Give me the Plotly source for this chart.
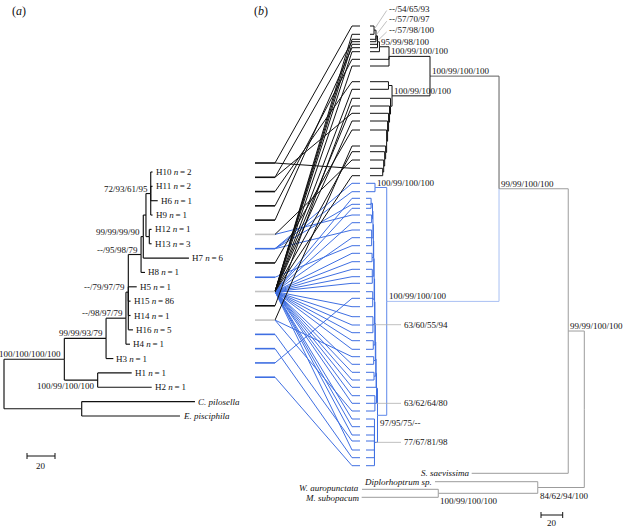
import plotly.graph_objects as go

# ------------------------------------------------------------------ data (a)
# haplotype tree: node, parent, depth from root (tree units; scale bar = 20)
a_node = ["R", "I", "N106", "X", "Y", "D", "C", "AB", "A", "H10",
          "H11", "H6", "H9", "B", "H12", "H13", "H7", "H8", "H5", "H15",
          "H14", "H16", "H4", "H3", "N12", "H1", "H2", "O", "Cpil", "Episc"]
a_parent = [None, "R", "I", "N106", "X", "Y", "D", "C", "AB", "A",
            "A", "A", "A", "AB", "B", "B", "C", "D", "Y", "Y",
            "Y", "Y", "X", "N106", "I", "N12", "N12", "R", "O", "O"]
a_depth = [0.0, 43.1, 72.9, 87.1, 88.8, 97.9, 99.5, 101.4, 104.8, 106.1,
           106.1, 109.8, 106.1, 103.8, 105.4, 105.4, 132.1, 100.7, 94.8, 90.4,
           90.4, 92.1, 90.0, 78.1, 66.9, 91.2, 105.5, 55.5, 136.4, 125.7]
a_support_node = ["A", "C", "D", "Y", "X", "N106", "I", "N12"]
a_support_text = ["72/93/61/95", "99/99/99/90", "--/95/98/79", "--/79/97/79",
                  "--/98/97/79", "99/99/93/79", "100/100/100/100", "100/99/100/100"]
a_support_side = ["above", "above", "above", "above", "above", "above", "above", "below"]
hap_names = ["H10", "H11", "H6", "H9", "H12", "H13", "H7", "H8",
             "H5", "H15", "H14", "H16", "H4", "H3", "H1", "H2"]
hap_n = [2, 2, 1, 1, 1, 3, 6, 1, 1, 86, 1, 5, 1, 1, 1, 1]
a_out_node = ["Cpil", "Episc"]
a_out_label = ["C. pilosella", "E. pisciphila"]

# ------------------------------------------------------------------ data (b)
# colony tree: (node, parent, depth from root in tree units)
b_edges = [
    ("Q", None, 0.0), ("S", "Q", 14.8), ("P", "S", 78.6), ("K", "P", 142.2),
    ("K1", "K", 180.0), ("n95", "K1", 188.8), ("nC", "n95", 190.6),
    ("nB", "nC", 192.0), ("nA", "nB", 193.8),
    ("c1", "nA", 197.5), ("c2", "nA", 197.5), ("c3", "nB", 197.5), ("c4", "nB", 197.5),
    ("c5", "nC", 197.5), ("c6", "nC", 197.5), ("c7", "n95", 197.5),
    ("c8", "K1", 197.5), ("c9", "K1", 197.5),
    ("K2", "K", 177.2), ("k2a", "K2", 180.5), ("c10", "k2a", 197.5), ("c11", "k2a", 197.5),
    ("k2c", "K2", 178.6), ("c12", "k2c", 197.5),
    ("k2d", "k2c", 179.5), ("c13", "k2d", 197.5),
    ("k2e", "k2d", 180.4), ("c14", "k2e", 197.5),
    ("k2f", "k2e", 181.3), ("c15", "k2f", 197.5),
    ("k2g", "k2f", 182.2), ("c16", "k2g", 197.5),
    ("k2h", "k2g", 183.1), ("c17", "k2h", 197.5),
    ("k2i", "k2h", 184.0), ("c18", "k2i", 197.5),
    ("k2j", "k2i", 184.9), ("c19", "k2j", 197.5),
    ("k2k", "k2j", 185.8), ("c20", "k2k", 197.5), ("c21", "k2k", 197.5),
    ("L", "P", 182.1),
    ("L1", "L", 192.9), ("c22", "L1", 201.2), ("c23", "L1", 201.2),
    ("L2", "L", 190.6), ("L3", "L2", 191.5),
    ("A11", "L3", 191.9), ("A10", "A11", 192.2), ("A9", "A10", 192.6), ("A8", "A9", 193.0),
    ("A7", "A8", 193.3), ("A6", "A7", 193.7), ("A5", "A6", 194.1), ("A4", "A5", 194.4),
    ("A3", "A4", 194.8), ("A2", "A3", 195.2),
    ("g1", "A2", 196.5), ("c24", "g1", 201.2), ("c25", "g1", 201.2), ("c26", "g1", 201.2),
    ("g2", "A2", 196.0), ("c27", "g2", 201.2), ("c28", "g2", 201.2),
    ("g3", "A3", 196.0), ("c29", "g3", 201.2), ("c30", "g3", 201.2), ("c31", "g3", 201.2),
    ("g4", "A4", 195.6), ("c32", "g4", 201.2), ("c33", "g4", 201.2),
    ("g5", "A5", 195.4), ("c34", "g5", 201.2), ("c35", "g5", 201.2), ("c36", "g5", 201.2),
    ("g6", "A6", 195.0), ("c37", "g6", 201.2), ("c38", "g6", 201.2), ("c39", "g6", 201.2),
    ("g7", "A7", 194.8), ("c40", "g7", 201.2), ("c41", "g7", 201.2), ("c42", "g7", 201.2),
    ("g8", "A8", 194.5), ("c43", "g8", 201.2), ("c44", "g8", 201.2),
    ("g9", "A9", 194.1), ("c45", "g9", 201.2), ("c46", "g9", 201.2),
    ("g10", "A10", 193.8), ("c47", "g10", 201.2), ("c48", "g10", 201.2),
    ("c49", "A11", 201.2),
    ("g12", "L3", 193.0), ("c50", "g12", 201.2), ("c51", "g12", 201.2), ("c52", "g12", 201.2),
    ("L4", "L2", 193.4), ("c53", "L4", 201.2), ("c54", "L4", 201.2), ("c55", "L4", 201.2),
    ("c56", "L4", 201.2), ("c57", "L4", 201.2), ("c58", "L4", 201.2), ("c59", "L4", 201.2),
    ("Ssaev", "S", 103.8),
    ("U", "Q", 42.9), ("Diplo", "U", 137.6), ("V", "U", 134.6),
    ("Waur", "V", 204.9), ("Msub", "V", 205.2),
]
# colony rows (vertical position of each colony tip) and its haplotype
colony_pos = [26.0, 34.3, 39.3, 41.7, 44.3, 47.7, 51.7, 59.3, 66.0, 81.7,
              89.3, 98.3, 106.0, 113.3, 121.0, 130.0, 146.0, 151.7, 160.0, 168.3,
              175.7, 183.3, 191.7, 198.3, 204.3, 208.3, 215.0, 222.7, 230.0, 237.7,
              245.7, 253.3, 261.7, 269.3, 276.7, 283.3, 291.7, 298.3, 306.7, 316.7,
              325.0, 332.7, 340.7, 349.3, 356.7, 364.3, 372.3, 380.0, 387.3, 395.7,
              403.3, 411.0, 419.0, 426.7, 435.0, 441.0, 450.0, 457.7, 465.7]
colony_hap = ["H10", "H15", "H15", "H11", "H15", "H12", "H15", "H9", "H15", "H6",
              "H15", "H14", "H15", "H11", "H15", "H8", "H16", "H15", "H13", "H10",
              "H15", "H7", "H7", "H15", "H7", "H15", "H13", "H15", "H7", "H15",
              "H5", "H15", "H15", "H15", "H15", "H15", "H15", "H1", "H15", "H15",
              "H15", "H15", "H15", "H15", "H16", "H15", "H15", "H15", "H15", "H15",
              "H15", "H16", "H15", "H15", "H15", "H4", "H15", "H3", "H2"]
b_out_node = ["Ssaev", "Diplo", "Waur", "Msub"]
b_out_label = ["S. saevissima", "Diplorhoptrum sp.", "W. auropunctata", "M. subopacum"]
b_out_pos = [473.3, 481.7, 489.3, 497.3]
b_support = [
    ("nA", "--/54/65/93", "leader_up"), ("nB", "--/57/70/97", "leader_up"),
    ("nC", "--/57/98/100", "leader_up"),
    ("n95", "95/99/98/100", "above"), ("K1", "100/99/100/100", "above"),
    ("K", "100/99/100/100", "above"), ("K2", "100/99/100/100", "above"),
    ("L1", "100/99/100/100", "above"), ("L", "100/99/100/100", "above"),
    ("P", "99/99/100/100", "above"), ("S", "99/99/100/100", "above"),
    ("g7", "63/60/55/94", "leader"), ("g12", "63/62/64/80", "leader"),
    ("L4", "77/67/81/98", "leader"),
    ("L2", "97/95/75/--", "below"), ("U", "84/62/94/100", "below"),
    ("V", "100/99/100/100", "below"),
]
scale_len = 20

# ------------------------------------------------------------------ layout constants
W, H = 625, 528
FONT = "Liberation Serif, Times New Roman, serif"
FS = 9
INK = "#111111"
BLUE = "#3f6fe2"
BLUE_MID = "#5d87ea"
BLUE_LIGHT = "#a9c0f3"
GREY = "#9c9c9c"
MIX = "#c2c2c2"
DARK = "#5e5e5e"
A_PX0, A_PXU = 4.0, 1.4
B_PX0, B_PXU = 584.3, 1.085
ROW0, ROWSTEP = 172.0, 14.35          # rows of tree (a)
TROW0, TROWSTEP = 163.0, 14.28        # haplotype rows on the left of the tanglegram
TL0, TL1, TR0, TR1 = 255, 275, 352, 360


def build(names, parents, depths):
    parent = dict(zip(names, parents))
    depth = dict(zip(names, depths))
    children = {n: [] for n in names}
    root = None
    for n in names:
        if parent[n] is None:
            root = n
        else:
            children[parent[n]].append(n)
    return root, parent, depth, children


def place(root, children, tip_y):
    y = {}

    def rec(n):
        if not children[n]:
            y[n] = tip_y[n]
            return
        for c in children[n]:
            rec(c)
        y[n] = (y[children[n][0]] + y[children[n][-1]]) / 2.0
    rec(root)
    return y


def tips_in_order(root, children):
    out = []

    def rec(n):
        if not children[n]:
            out.append(n)
        for c in children[n]:
            rec(c)
    rec(root)
    return out


segs = {}


def seg(axis, color, width, x0, y0, x1, y1):
    k = (axis, color, width)
    xs, ys = segs.setdefault(k, ([], []))
    xs += [x0, x1, None]
    ys += [y0, y1, None]


annotations = []


def text(xref, x, y, s, anchor="left", xshift=0, yshift=0, size=FS, color=INK):
    annotations.append(dict(xref=xref, yref="y", x=x, y=y, text=s, showarrow=False,
                            xanchor=anchor, yanchor="middle", xshift=xshift, yshift=yshift,
                            borderpad=0, font=dict(family=FONT, size=size, color=color)))


# ------------------------------------------------------------------ tree (a)
a_root, a_par, a_dep, a_ch = build(a_node, a_parent, a_depth)
a_tips = tips_in_order(a_root, a_ch)
a_y = place(a_root, a_ch, {t: ROW0 + ROWSTEP * i for i, t in enumerate(a_tips)})
for p in a_node:
    for c in a_ch[p]:
        seg("x", INK, 1.15, a_dep[p], a_y[p], a_dep[p], a_y[c])
        seg("x", INK, 1.15, a_dep[p], a_y[c], a_dep[c], a_y[c])
for h, n in zip(hap_names, hap_n):
    text("x", a_dep[h], a_y[h], f"{h} <i>n</i>\u2009=\u2009{n}", xshift=2)
for nd, lab in zip(a_out_node, a_out_label):
    text("x", a_dep[nd], a_y[nd], f"<i>{lab}</i>", xshift=2)
for nd, lab, side in zip(a_support_node, a_support_text, a_support_side):
    text("x", a_dep[nd], a_y[nd], lab, anchor="right", xshift=-2,
         yshift=5 if side == "above" else -6)

# scale bar (a)
sb_y = 456
sb_x0 = (27 - A_PX0) / A_PXU
seg("x", INK, 1.0, sb_x0, sb_y, sb_x0 + scale_len, sb_y)
seg("x", INK, 1.0, sb_x0, sb_y - 3, sb_x0, sb_y + 3)
seg("x", INK, 1.0, sb_x0 + scale_len, sb_y - 3, sb_x0 + scale_len, sb_y + 3)
text("x", sb_x0 + scale_len / 2, sb_y, str(scale_len), anchor="center", yshift=-10)

# ------------------------------------------------------------------ tree (b)
b_names = [e[0] for e in b_edges]
b_root, b_par, b_dep, b_ch = build(b_names, [e[1] for e in b_edges], [e[2] for e in b_edges])
b_tip_y = {f"c{i + 1}": v for i, v in enumerate(colony_pos)}
b_tip_y.update(dict(zip(b_out_node, b_out_pos)))
b_y = place(b_root, b_ch, b_tip_y)


def under(n, anc):
    while n is not None:
        if n == anc:
            return True
        n = b_par[n]
    return False


def b_colour(c):
    if c == "K":
        return DARK
    if c == "L":
        return BLUE_LIGHT
    if b_par[c] == "L":
        return BLUE_MID
    if under(c, "K"):
        return INK
    if under(c, "L"):
        return BLUE
    return GREY


def bpx(u):
    return B_PX0 - B_PXU * u


for p in b_names:
    for c in b_ch[p]:
        col = b_colour(c)
        seg("x2", col, 1.0, b_dep[p], b_y[p], b_dep[p], b_y[c])
        seg("x2", col, 1.0, b_dep[p], b_y[c], b_dep[c], b_y[c])

out_nudge = {"Waur": 1, "Msub": -1}
for nd, lab in zip(b_out_node, b_out_label):
    text("x2", b_dep[nd], b_y[nd], f"<i>{lab}</i>", anchor="right", xshift=-2,
         yshift=out_nudge.get(nd, 0))

k_up = 0
for nd, lab, style in b_support:
    if style == "above":
        text("x2", b_dep[nd], b_y[nd], lab, xshift=1, yshift=5)
    elif style == "below":
        text("x2", b_dep[nd], b_y[nd], lab, xshift=1, yshift=-8)
    elif style == "leader":
        seg("x3", "#b0b0b0", 0.8, bpx(b_dep[nd]) + 1.5, b_y[nd], 401, b_y[nd])
        text("x3", 403, b_y[nd], lab)
    else:  # leader_up
        ty = 8.5 + 10.7 * k_up
        k_up += 1
        seg("x3", "#b0b0b0", 0.8, bpx(b_dep[nd]) + 1, b_y[nd] - 2, 386.7, ty + 2)
        text("x3", 388, ty, lab)

# scale bar (b)
sb2_y = 515
sb2_x0 = (B_PX0 - 562.7) / B_PXU
seg("x2", INK, 1.0, sb2_x0, sb2_y, sb2_x0 + scale_len, sb2_y)
seg("x2", INK, 1.0, sb2_x0, sb2_y - 3, sb2_x0, sb2_y + 3)
seg("x2", INK, 1.0, sb2_x0 + scale_len, sb2_y - 3, sb2_x0 + scale_len, sb2_y + 3)
text("x2", sb2_x0 + scale_len / 2, sb2_y, str(scale_len), anchor="center", yshift=-8)

# ------------------------------------------------------------------ tanglegram
hap_row = {h: TROW0 + TROWSTEP * i for i, h in enumerate(hap_names)}
groups = {}
for i, h in enumerate(colony_hap):
    c = f"c{i + 1}"
    blue = under(c, "L")
    groups.setdefault(h, set()).add("b" if blue else "k")
    col = BLUE if blue else INK
    seg("x3", col, 1.0, TL1, hap_row[h], TR0, b_y[c])
    seg("x3", col, 1.0, TR0, b_y[c], TR1, b_y[c])
for h in hap_names:
    g = groups.get(h, set())
    col = MIX if len(g) > 1 else (BLUE if "b" in g else INK)
    seg("x3", col, 1.6, TL0, hap_row[h], TL1, hap_row[h])

# panel letters
text("x3", 11, 11, "(<i>a</i>)", size=12)
text("x3", 253, 11, "(<i>b</i>)", size=12)

# ------------------------------------------------------------------ figure
fig = go.Figure()
order = sorted(segs.keys(), key=lambda k: (k[0] != "x3", k[1] != BLUE))
for (axis, color, width) in order:
    xs, ys = segs[(axis, color, width)]
    fig.add_trace(go.Scatter(x=xs, y=ys, mode="lines", xaxis=axis, yaxis="y",
                             line=dict(color=color, width=width),
                             hoverinfo="skip", showlegend=False))

fig.update_layout(
    width=W, height=H, margin=dict(l=0, r=0, t=0, b=0),
    paper_bgcolor="white", plot_bgcolor="white",
    xaxis=dict(range=[(0 - A_PX0) / A_PXU, (W - A_PX0) / A_PXU], visible=False,
               domain=[0, 1], fixedrange=True),
    xaxis2=dict(range=[(B_PX0 - 0) / B_PXU, (B_PX0 - W) / B_PXU], visible=False,
                overlaying="x", anchor="y", fixedrange=True),
    xaxis3=dict(range=[0, W], visible=False, overlaying="x", anchor="y", fixedrange=True),
    yaxis=dict(range=[H, 0], visible=False, domain=[0, 1], fixedrange=True),
    annotations=annotations,
)
fig.write_html("out.html", config={"displayModeBar": False},
               post_script="document.body.style.margin='0';document.body.style.padding='0';")
